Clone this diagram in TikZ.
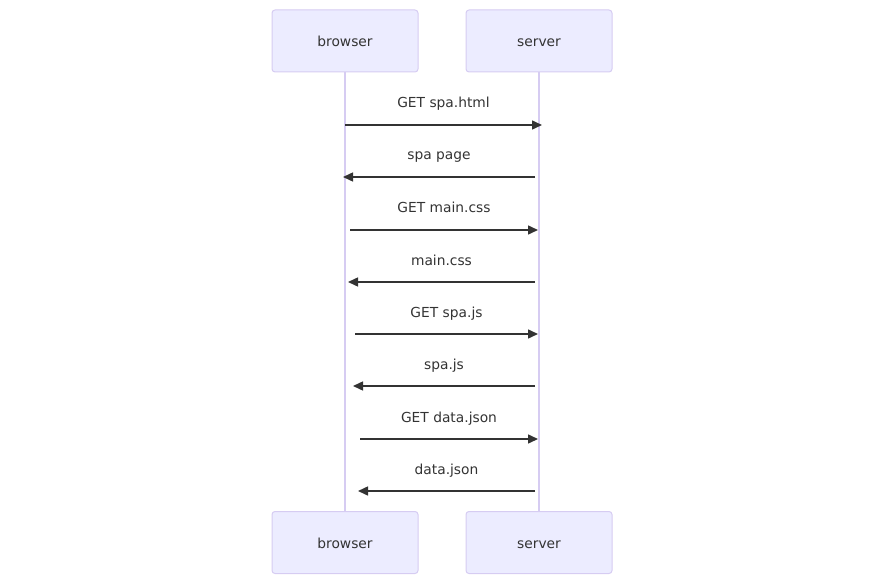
\documentclass[tikz,border=0pt]{standalone}
\usepackage{fontspec}
\setmainfont{DejaVu Sans}
\usetikzlibrary{arrows.meta}
\definecolor{actfill}{HTML}{ECECFF}
\definecolor{actline}{HTML}{D6CCF2}
\definecolor{ink}{HTML}{333333}
\tikzset{
  actor/.style={draw=actline, fill=actfill, line width=1pt, rounded corners=3pt,
    minimum width=146pt, minimum height=62pt, inner sep=0pt, text=ink,
    text height=12pt, text depth=0pt,
    font=\fontsize{13.8pt}{16pt}\selectfont},
  life/.style={draw=actline, line width=1.5pt},
  msg/.style={draw=ink, line width=1.5pt, -{Triangle[length=10pt,width=9pt]}},
  lbl/.style={text=ink, font=\fontsize{13.8pt}{16pt}\selectfont, inner sep=0pt,
    anchor=base, yshift=17pt}
}
\begin{document}
\begin{tikzpicture}[x=1pt,y=-1pt]
\useasboundingbox (0,0) rectangle (885,585);
\node[actor] (bt) at (345,41) {browser};
\node[actor] (st) at (539,41) {server};
\node[actor] (bb) at (345,542.5) {browser};
\node[actor] (sb) at (539,542.5) {server};
\draw[life] (bt.south) -- (bb.north);
\draw[life] (st.south) -- (sb.north);
% message end points
\coordinate (a1) at (345,125); \coordinate (b1) at (542,125);
\coordinate (a2) at (535,177); \coordinate (b2) at (343,177);
\coordinate (a3) at (350,230); \coordinate (b3) at (538,230);
\coordinate (a4) at (535,282); \coordinate (b4) at (348,282);
\coordinate (a5) at (355,334); \coordinate (b5) at (538,334);
\coordinate (a6) at (535,386); \coordinate (b6) at (353,386);
\coordinate (a7) at (360,439); \coordinate (b7) at (538,439);
\coordinate (a8) at (535,491); \coordinate (b8) at (358,491);
\draw[msg] (a1) -- (b1) node[lbl, midway] (l1) {GET spa.html};
\draw[msg] (a2) -- (b2) node[lbl, midway] (l2) {spa page};
\draw[msg] (a3) -- (b3) node[lbl, midway] (l3) {GET main.css};
\draw[msg] (a4) -- (b4) node[lbl, midway] (l4) {main.css};
\draw[msg] (a5) -- (b5) node[lbl, midway] (l5) {GET spa.js};
\draw[msg] (a6) -- (b6) node[lbl, midway] (l6) {spa.js};
\draw[msg] (a7) -- (b7) node[lbl, midway] (l7) {GET data.json};
\draw[msg] (a8) -- (b8) node[lbl, midway] (l8) {data.json};
\end{tikzpicture}
\end{document}
